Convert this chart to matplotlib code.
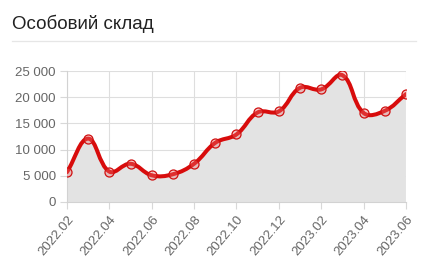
import matplotlib.pyplot as plt
import numpy as np
from matplotlib.path import Path
from matplotlib.patches import PathPatch
from matplotlib.ticker import FuncFormatter

plt.rcParams['font.family'] = ['Liberation Sans', 'DejaVu Sans']

# Дані (місяці та значення)
months = ['2022.02', '2022.03', '2022.04', '2022.05', '2022.06', '2022.07',
          '2022.08', '2022.09', '2022.10', '2022.11', '2022.12', '2023.01',
          '2023.02', '2023.03', '2023.04', '2023.05', '2023.06']
values = [5700, 12100, 5800, 7300, 5100, 5300, 7300, 11300, 12900,
          17100, 17300, 21800, 21500, 24200, 17000, 17400, 20600]

x = np.arange(len(months))
y = np.array(values, dtype=float)

fig = plt.figure(figsize=(4.28, 2.74), dpi=100)
ax = fig.add_axes([0.1565, 0.2628, 0.792, 0.478])

ax.set_xlim(0, len(months) - 1)
ax.set_ylim(0, 25000)

# крива з натягом як у Chart.js (tension 0.4), відстані у пікселях
sx = 339 / (len(months) - 1)
sy = 131 / 25000
tension = 0.4
verts = [(x[0], y[0])]
codes = [Path.MOVETO]
cp_prev = []
cp_next = []
for i in range(len(x)):
    p0 = (x[max(i - 1, 0)], y[max(i - 1, 0)])
    p1 = (x[i], y[i])
    p2 = (x[min(i + 1, len(x) - 1)], y[min(i + 1, len(x) - 1)])
    d01 = np.hypot((p1[0] - p0[0]) * sx, (p1[1] - p0[1]) * sy)
    d12 = np.hypot((p2[0] - p1[0]) * sx, (p2[1] - p1[1]) * sy)
    tot = d01 + d12 if d01 + d12 > 0 else 1
    fa = tension * d01 / tot
    fb = tension * d12 / tot
    cp_prev.append((p1[0] - fa * (p2[0] - p0[0]), min(max(p1[1] - fa * (p2[1] - p0[1]), 0), 25000)))
    cp_next.append((p1[0] + fb * (p2[0] - p0[0]), min(max(p1[1] + fb * (p2[1] - p0[1]), 0), 25000)))
for i in range(1, len(x)):
    verts += [cp_next[i - 1], cp_prev[i], (x[i], y[i])]
    codes += [Path.CURVE4] * 3

line_path = Path(verts, codes)
fill_path = Path(verts + [(x[-1], 0), (x[0], 0), (x[0], y[0])],
                 codes + [Path.LINETO, Path.LINETO, Path.CLOSEPOLY])

ax.add_patch(PathPatch(fill_path, facecolor='#e3e3e3', edgecolor='none', zorder=1))
ax.add_patch(PathPatch(line_path, facecolor='none', edgecolor='#d80c0c',
                       linewidth=2.9, capstyle='round', joinstyle='round', zorder=3))
ax.plot(x, y, linestyle='none', marker='o', markersize=6.5,
        markerfacecolor=(0.93, 0.45, 0.45, 0.35), markeredgecolor='#d01010',
        markeredgewidth=0.9, zorder=4)

# осі та сітка
ax.set_xticks(x[::2])
ax.set_xticklabels(months[::2], rotation=50, ha='right', rotation_mode='anchor')
ax.set_yticks([0, 5000, 10000, 15000, 20000, 25000])
ax.yaxis.set_major_formatter(FuncFormatter(lambda v, p: f'{int(v):,}'.replace(',', ' ')))
ax.grid(True, color='#dedede', linewidth=0.8, zorder=0)
ax.set_axisbelow(True)
ax.tick_params(axis='both', colors='#d8d8d8', labelcolor='#666666', labelsize=9.5,
               length=5, width=0.8, pad=3)
for side in ['top', 'right']:
    ax.spines[side].set_visible(False)
for side in ['left', 'bottom']:
    ax.spines[side].set_color('#d2d2d2')
    ax.spines[side].set_linewidth(0.8)

# заголовок і розділювач
fig.text(12 / 428, 1 - 29 / 274, 'Особовий склад', fontsize=13.5, color='#222222')
fig.add_artist(plt.Line2D([12 / 428, 416 / 428], [1 - 41 / 274, 1 - 41 / 274],
                          color='#e6e6e6', linewidth=0.9))

fig.savefig('out.png', dpi=100)
